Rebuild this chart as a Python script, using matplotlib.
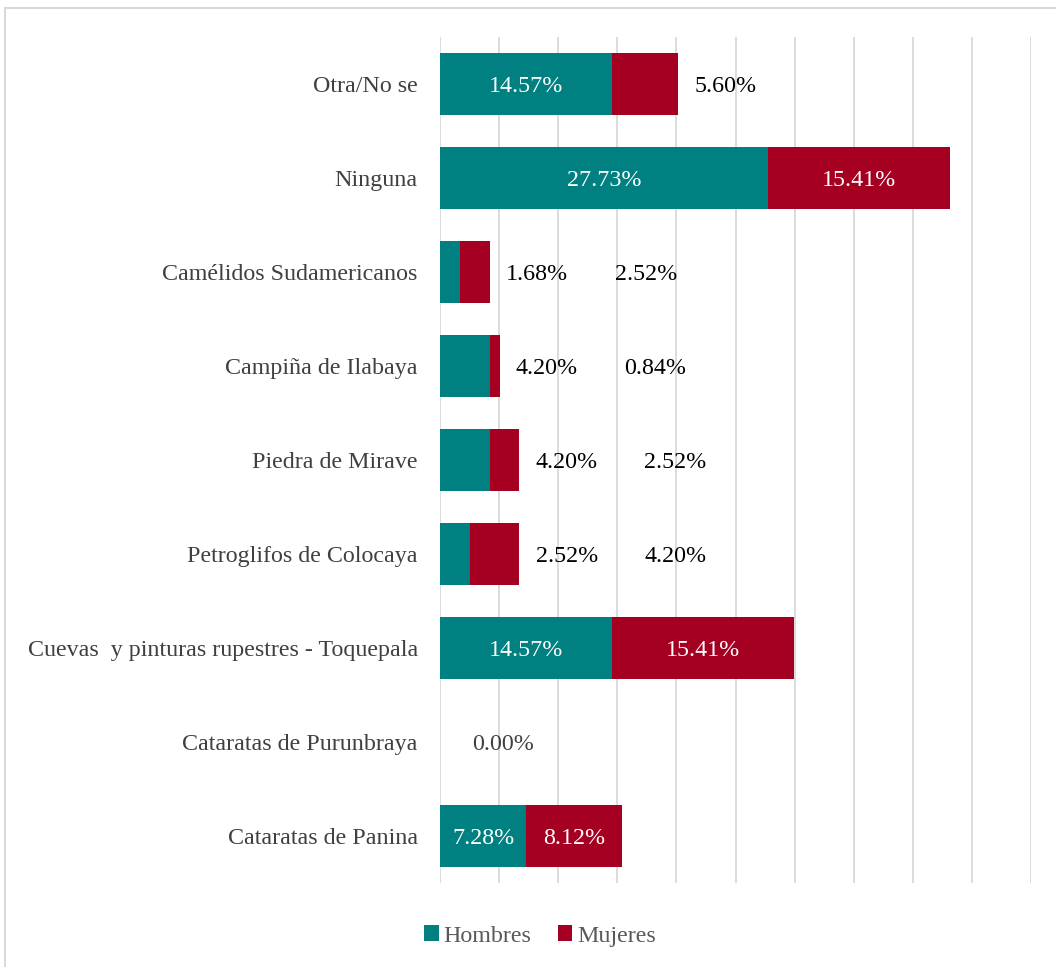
import matplotlib.pyplot as plt
from matplotlib.patches import Rectangle

# Atractivos turísticos por sexo (porcentaje)
categorias = [
    "Cataratas de Panina",
    "Cataratas de Purunbraya",
    "Cuevas  y pinturas rupestres - Toquepala",
    "Petroglifos de Colocaya",
    "Piedra de Mirave",
    "Campiña de Ilabaya",
    "Camélidos Sudamericanos",
    "Ninguna",
    "Otra/No se",
]
hombres = [7.28, 0.00, 14.57, 2.52, 4.20, 4.20, 1.68, 27.73, 14.57]
mujeres = [8.12, 0.00, 15.41, 4.20, 2.52, 0.84, 2.52, 15.41, 5.60]

COLOR_H = "#008080"
COLOR_M = "#A50021"

plt.rcParams['font.family'] = ['Liberation Serif', 'DejaVu Serif']

fig = plt.figure(figsize=(10.56, 9.67), dpi=100)
ax = fig.add_axes([440 / 1056, 1 - 883 / 967, 591 / 1056, 846 / 967])

y = list(range(len(categorias)))
ax.barh(y, hombres, height=0.66, color=COLOR_H, linewidth=0, label="Hombres")
ax.barh(y, mujeres, left=hombres, height=0.66, color=COLOR_M, linewidth=0, label="Mujeres")

# etiquetas de datos: dentro si cabe, si no a la derecha de la barra
FS = 17.3
for i, (h, m) in enumerate(zip(hombres, mujeres)):
    total = h + m
    if h == 0 and m == 0:
        ax.text(total + 5.3, i, f"{h:.2f}%", ha="center", va="center_baseline", fontsize=FS, color="#404040")
        continue
    siguiente = total + 4.0
    for inicio, valor in ((0, h), (h, m)):
        if valor >= 6:
            ax.text(inicio + valor / 2, i, f"{valor:.2f}%", ha="center", va="center_baseline",
                    fontsize=FS, color="white")
        else:
            ax.text(siguiente, i, f"{valor:.2f}%", ha="center", va="center_baseline",
                    fontsize=FS, color="black")
            siguiente += 9.2

ax.set_xlim(0, 50)
ax.set_ylim(-0.5, len(categorias) - 0.5)
ax.set_xticks(range(0, 51, 5))
ax.set_xticklabels([])
ax.set_yticks(y)
ax.set_yticklabels(categorias, fontsize=FS, color="#404040")
ax.tick_params(axis="both", length=0, pad=16)
ax.grid(axis="x", color="#d9d9d9", linewidth=1.3)
ax.set_axisbelow(True)
for s in ax.spines.values():
    s.set_visible(False)

leg = fig.legend(loc="center", bbox_to_anchor=(540 / 1056, 1 - 936 / 967), ncol=2, frameon=False,
                 fontsize=FS, handlelength=0.6, handleheight=0.6, handletextpad=0.2, columnspacing=1.1)
for t in leg.get_texts():
    t.set_color("#595959")

# marco exterior del gráfico
fig.patches.append(Rectangle((5 / 1056, -0.05), 1.1, 1.05 - 8 / 967, transform=fig.transFigure,
                             fill=False, edgecolor="#d9d9d9", linewidth=1.5))

fig.savefig("out.png", dpi=100)
